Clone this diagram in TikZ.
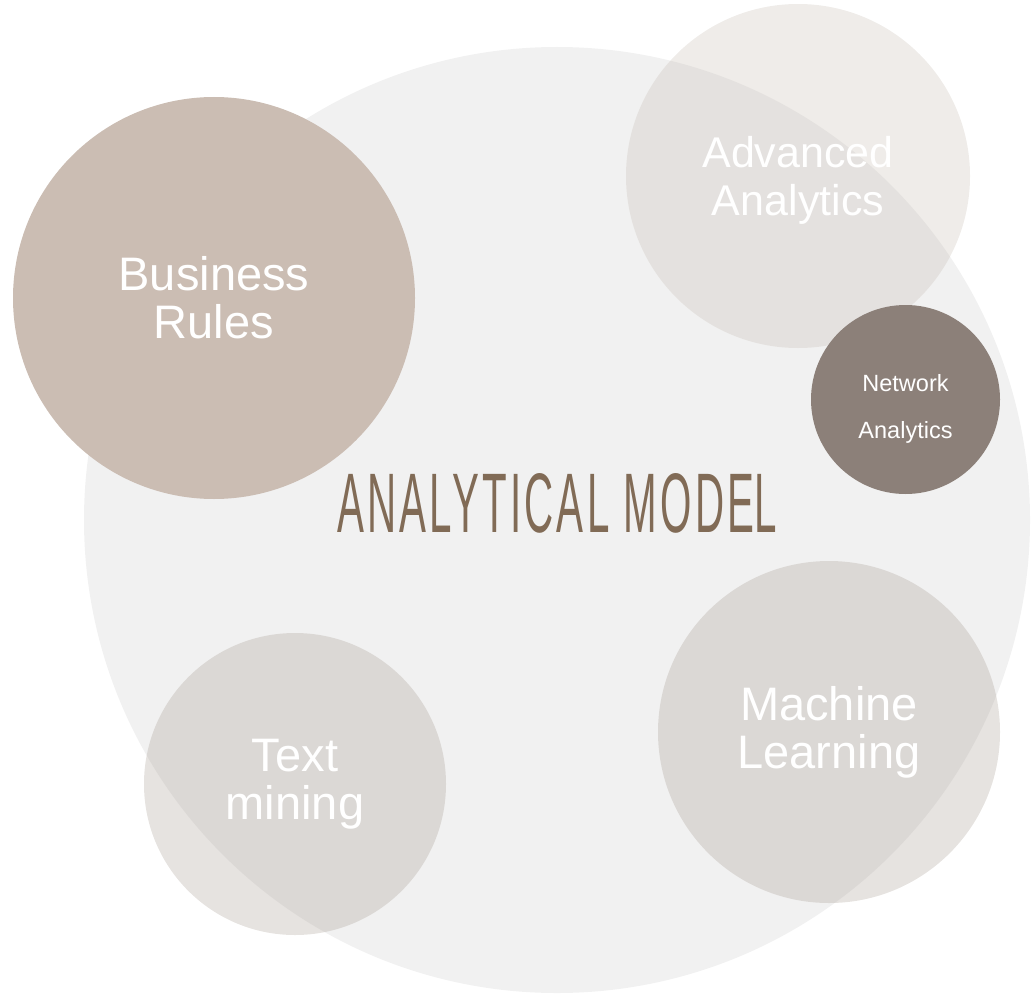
\documentclass[tikz,border=0pt]{standalone}
\usepackage{fontspec}
\setmainfont{Liberation Sans}
\definecolor{modelgrey}{HTML}{F1F1F1}
\definecolor{rulestan}{HTML}{CBBDB3}
\definecolor{advtone}{HTML}{C7BDB3}
\definecolor{greytone}{HTML}{A89D93}
\definecolor{netbrown}{HTML}{8C8079}
\definecolor{titlebrown}{HTML}{816B56}
\def\bigtext{\fontsize{47}{48}\selectfont}

\begin{document}
\begin{tikzpicture}[x=1pt,y=-1pt,
        bubble/.style={circle,inner sep=0pt,text=white,align=center,font=\bigtext},
        faint/.style={fill opacity=0.29,text opacity=1}]
                \useasboundingbox (0,0) rectangle (1032,995);
                \node[bubble,fill=modelgrey,minimum size=946pt] (model) at (557,520) {};
                \node[bubble,fill=rulestan,minimum size=402pt] (rules) at (214,298) {Business\\Rules};
                \node[bubble,faint,fill=advtone,minimum size=344pt] (adv) at (798,176) {};
                \node[text=white,align=center,font=\fontsize{43}{48}\selectfont] (advlabel) at ([yshift=-4pt]adv.center) {Advanced\\Analytics};
                \node[bubble,fill=netbrown,minimum size=189pt] (net) at (905.5,399.5) {};
                \node[text=white,align=center,font=\fontsize{23.5}{47}\selectfont] (netlabel) at ([yshift=-9pt]net.center) {Network\\Analytics};
                \node[bubble,faint,fill=greytone,minimum size=342pt] (ml) at (829,732) {Machine\\Learning};
                \node[bubble,faint,fill=greytone,minimum size=302pt] (tm) at (295,784) {Text\\mining};
                \node[anchor=base,text=titlebrown,font=\fontsize{81}{81}\selectfont,inner sep=0pt] (title) at (557,532)
                    {\resizebox{440pt}{59pt}{\addfontfeature{LetterSpace=8}ANALYTICAL MODE\kern0ptL}};
            \end{tikzpicture}
\end{document}
